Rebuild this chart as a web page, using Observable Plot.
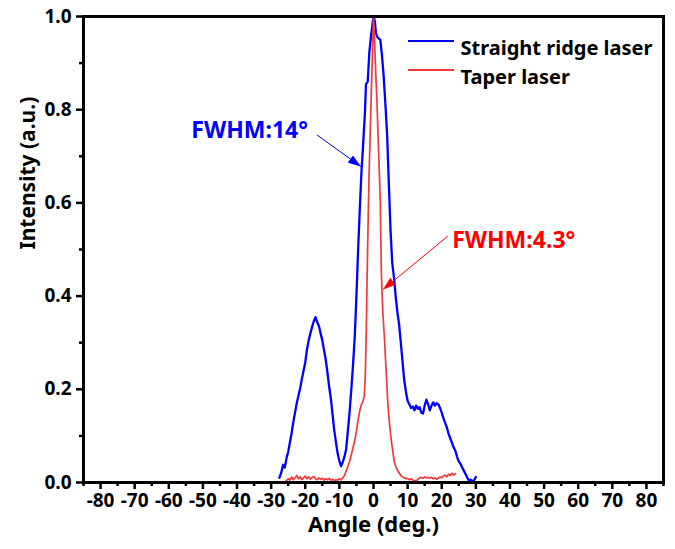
<!DOCTYPE html>
<html>
<head>
<meta charset="utf-8">
<script src="https://cdn.jsdelivr.net/npm/d3@7"></script>
<script src="https://cdn.jsdelivr.net/npm/@observablehq/plot@0.6"></script>
<style>
  html, body { margin: 0; padding: 0; background: #fff; }
  #chart { width: 675px; height: 549px; }
  #chart svg g[aria-label*="tick label"] text {
    font-size: 19px !important;
    font-weight: bold !important;
    font-family: 'Noto Sans', 'DejaVu Sans', sans-serif !important;
  }
</style>
</head>
<body>
<div id="chart"></div>
<script>
// ---- data ----
const blueAngle = [-27.6,-27,-26.5,-26,-25.5,-25,-24.5,-24,-23.5,-23,-22.5,-22,-21.5,-21,-20.5,-20,-19.5,-19,-18.5,-18,-17.5,-17,-16.5,-16,-15.5,-15,-14.5,-14,-13.5,-13,-12.5,-12,-11.5,-11,-10.5,-10,-9.5,-9,-8.5,-8,-7.5,-7,-6.5,-6,-5.5,-5,-4.5,-4,-3.5,-3,-2.5,-2.2,-1.7,-1.2,-0.7,0,0.4,0.7,1.2,2.0,2.5,3.0,3.5,4.0,4.5,5.0,5.5,6.0,6.5,7.0,7.5,8.0,8.5,9.0,9.5,10.0,10.5,11,11.5,12,12.5,13,13.5,14,14.5,15,15.5,16,16.5,17,17.5,18,18.5,19,19.5,20,20.5,21,21.5,22,22.5,23,23.5,24,24.5,25,25.5,26,26.5,27,27.5,28,28.5,29,29.5,30];
const blueIntensity = [0.010,0.022,0.038,0.032,0.052,0.066,0.086,0.106,0.130,0.150,0.170,0.186,0.202,0.222,0.240,0.258,0.285,0.305,0.320,0.334,0.346,0.355,0.344,0.336,0.320,0.305,0.284,0.264,0.236,0.206,0.180,0.146,0.112,0.086,0.062,0.046,0.035,0.044,0.056,0.072,0.112,0.152,0.200,0.252,0.312,0.400,0.500,0.590,0.670,0.730,0.795,0.855,0.860,0.925,0.960,1.000,0.990,0.965,0.955,0.950,0.915,0.870,0.810,0.745,0.640,0.540,0.470,0.440,0.400,0.365,0.340,0.300,0.260,0.220,0.195,0.175,0.168,0.160,0.163,0.155,0.165,0.158,0.162,0.150,0.148,0.165,0.178,0.168,0.155,0.165,0.172,0.165,0.170,0.168,0.160,0.150,0.138,0.128,0.118,0.105,0.095,0.085,0.075,0.068,0.055,0.045,0.040,0.032,0.025,0.018,0.010,0.004,0.006,0.003,0.005,0.012];

const redAngle = [-25.7,-25,-24.5,-24,-23.5,-23,-22.5,-22,-21.5,-21,-20.5,-20,-19.5,-19,-18.5,-18,-17.5,-17,-16.5,-16,-15.5,-15,-14.5,-14,-13.5,-13,-12.5,-12,-11.5,-11,-10.5,-10,-9.5,-9,-8.5,-8,-7.5,-7,-6.5,-6,-5.5,-5,-4.5,-4,-3.5,-3.2,-2.7,-2.4,-2.1,-1.9,-1.6,-1.3,-1.0,-0.7,-0.35,0,0.3,0.7,1.0,1.5,2.0,2.3,2.7,3.2,3.7,4.2,4.7,5.1,5.6,6.1,6.6,7.2,8,8.5,9,9.5,10,10.5,11,11.5,12,12.5,13,13.5,14,14.5,15,15.5,16,16.5,17,17.5,18,18.5,19,19.5,20,20.5,21,21.5,22,22.5,23,23.5,24];
const redIntensity = [0.003,0.008,0.005,0.012,0.006,0.010,0.015,0.008,0.012,0.006,0.010,0.014,0.008,0.012,0.007,0.011,0.013,0.008,0.006,0.010,0.007,0.009,0.005,0.008,0.006,0.009,0.005,0.007,0.004,0.006,0.005,0.008,0.006,0.010,0.015,0.025,0.035,0.045,0.060,0.075,0.090,0.110,0.135,0.155,0.168,0.172,0.185,0.230,0.330,0.430,0.550,0.660,0.740,0.820,0.910,1.000,0.950,0.870,0.820,0.710,0.600,0.450,0.370,0.310,0.240,0.170,0.125,0.097,0.070,0.045,0.033,0.024,0.015,0.012,0.010,0.008,0.009,0.006,0.008,0.005,0.004,0.003,0.007,0.010,0.011,0.009,0.012,0.010,0.011,0.009,0.011,0.008,0.010,0.007,0.009,0.012,0.010,0.014,0.016,0.012,0.018,0.015,0.020,0.016,0.019];

const seriesNames = ["Straight ridge laser", "Taper laser"];
const seriesColors = ["#0000ff", "#f23a3a"];

const xMajorTicks = [-80,-70,-60,-50,-40,-30,-20,-10,0,10,20,30,40,50,60,70,80];
const xMinorTicks = [-85,-75,-65,-55,-45,-35,-25,-15,-5,5,15,25,35,45,55,65,75,85];
const yMajorTicks = [0,0.2,0.4,0.6,0.8,1.0];
const yMinorTicks = [0.1,0.3,0.5,0.7,0.9];

// annotations: text position and arrow (from -> to), in data units
const annTexts = ["FWHM:14°", "FWHM:4.3°"];
const annTextX = [-36.3, 41.1];
const annTextY = [0.755, 0.519];
const annFromX = [-16.6, 21.8];
const annFromY = [0.746, 0.529];
const annToX = [-3.7, 2.8];
const annToY = [0.678, 0.414];
const annColors = ["#0000ff", "#ff0000"];

const xTitle = "Angle (deg.)";
const yTitle = "Intensity (a.u.)";

// ---- build tables ----
const blueRows = blueAngle.map((a, i) => ({a, v: blueIntensity[i]}));
const redRows = redAngle.map((a, i) => ({a, v: redIntensity[i]}));
const annRows = annTexts.map((t, i) => ({
  t, x: annTextX[i], y: annTextY[i],
  x1: annFromX[i], y1: annFromY[i], x2: annToX[i], y2: annToY[i], c: annColors[i]
}));

const W = 675, H = 549;
const mL = 83, mR = 12, mT = 16, mB = 67;
const FONT = "'Noto Sans', 'DejaVu Sans', sans-serif";
const TICK_FONT = 19;

const plot = Plot.plot({
  width: W, height: H,
  marginLeft: mL, marginRight: mR, marginTop: mT, marginBottom: mB,
  style: { fontFamily: FONT, fontWeight: "bold", fontSize: TICK_FONT + "px", background: "#fff", overflow: "visible" },
  x: { domain: [-85, 85] },
  y: { domain: [0, 1] },
  marks: [
    Plot.axisX({ ticks: xMajorTicks, tickSize: 7, tickPadding: 4, strokeWidth: 2.5, tickFormat: d => String(d), fontSize: TICK_FONT, fontWeight: "bold", fontFamily: FONT, label: null, fill: "#000" }),
    Plot.axisX({ ticks: xMinorTicks, tickSize: 4, strokeWidth: 2.5, text: null, label: null }),
    Plot.axisY({ ticks: yMajorTicks, tickSize: 7, tickPadding: 5, strokeWidth: 2.5, tickFormat: d3.format(".1f"), fontSize: TICK_FONT, fontWeight: "bold", fontFamily: FONT, label: null, fill: "#000" }),
    Plot.axisY({ ticks: yMinorTicks, tickSize: 4, strokeWidth: 2.5, text: null, label: null }),
    Plot.line(blueRows, { x: "a", y: "v", stroke: seriesColors[0], strokeWidth: 2.3 }),
    Plot.line(redRows, { x: "a", y: "v", stroke: seriesColors[1], strokeWidth: 1.7 }),
    Plot.link(annRows, { x1: "x1", y1: "y1", x2: "x2", y2: "y2", stroke: "c", strokeWidth: 1 }),
    Plot.text(annRows, { x: "x", y: "y", text: "t", fill: "c", fontSize: 23, fontWeight: "bold", fontFamily: FONT }),
    Plot.frame({ stroke: "#000", strokeWidth: 3 }),
    Plot.text([yTitle], { frameAnchor: "left", dx: -55, rotate: -90, text: d => d, fontSize: 21, fontWeight: "bold", fill: "#000", fontFamily: FONT }),
    Plot.text([xTitle], { frameAnchor: "bottom", dy: 49, text: d => d, fontSize: 22, fontWeight: "bold", fill: "#000", fontFamily: FONT }),
    ...seriesNames.map((name, i) => Plot.text([name], {
      frameAnchor: "top-left", dx: 377, dy: 24 + i * 29, text: d => d,
      textAnchor: "start", fontSize: 20, fontWeight: "bold", fill: "#000", fontFamily: FONT
    }))
  ]
});

document.getElementById("chart").appendChild(plot);

// ---- post: tick label font, legend sample lines, filled arrowheads ----
const svg = d3.select(plot);
svg.selectAll("g[aria-label*='tick label']")
  .attr("font-size", TICK_FONT).attr("font-weight", "bold").attr("font-family", FONT);
const defs = svg.insert("defs", ":first-child");
annColors.forEach((c, i) => {
  defs.append("marker")
    .attr("id", "ah" + i).attr("viewBox", "0 0 13 9")
    .attr("refX", 13).attr("refY", 4.5)
    .attr("markerWidth", 13).attr("markerHeight", 9)
    .attr("markerUnits", "userSpaceOnUse").attr("orient", "auto")
    .append("path").attr("d", "M0,0L13,4.5L0,9Z").attr("fill", c);
});
svg.selectAll("g[aria-label=link] path").each(function(d, i) {
  d3.select(this).attr("marker-end", `url(#ah${i})`);
});
const lg = svg.append("g");
seriesNames.forEach((name, i) => {
  lg.append("line")
    .attr("x1", mL + 325).attr("x2", mL + 371)
    .attr("y1", mT + 25 + i * 29).attr("y2", mT + 25 + i * 29)
    .attr("stroke", seriesColors[i]).attr("stroke-width", 2);
});
</script>
</body>
</html>
